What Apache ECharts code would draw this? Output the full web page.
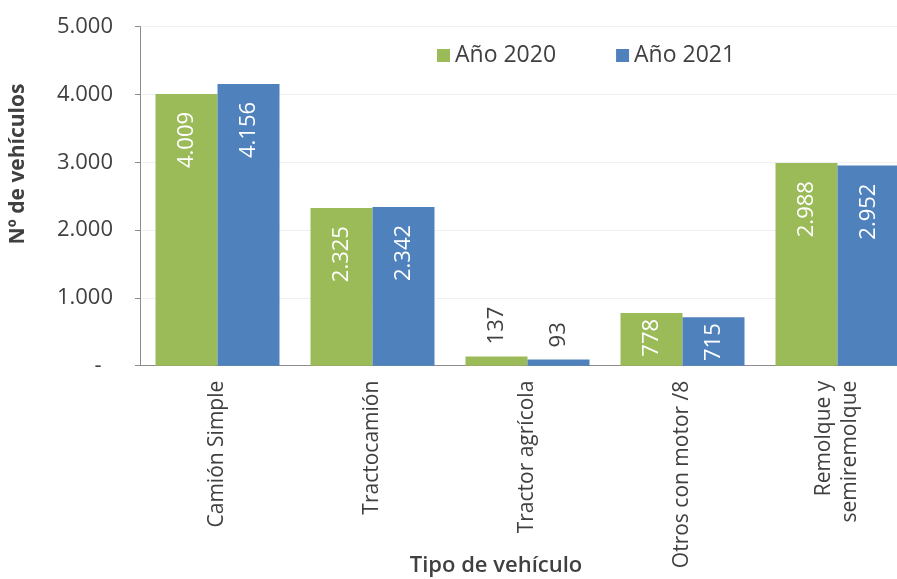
<!DOCTYPE html>
<html>
<head>
<meta charset="utf-8">
<script src="https://cdn.jsdelivr.net/npm/echarts@6/dist/echarts.min.js"></script>
<style>
  html, body { margin: 0; padding: 0; background: #fff; }
  #chart { width: 897px; height: 579px; }
</style>
</head>
<body>
<div id="chart"></div>
<script>
const categories = [
  "Camión Simple",
  "Tractocamión",
  "Tractor agrícola",
  "Otros con motor /8",
  "Remolque y\nsemiremolque",
];
const seriesNames = ["Año 2020", "Año 2021"];
const values2020 = [4009, 2325, 137, 778, 2988];
const values2021 = [4156, 2342, 93, 715, 2952];
const yTicks = [0, 1000, 2000, 3000, 4000, 5000];

const FONT = "'Open Sans', 'Noto Sans', sans-serif";
const GREEN = "#9BBB59";
const BLUE = "#4F81BD";

// formato español: 4.009, y "-" para el cero
const fmt = (v) => (v === 0 ? "-  " : String(v).replace(/\B(?=(\d{3})+(?!\d))/g, "."));

// etiqueta dentro de la barra (blanca) o encima si la barra es muy baja
const toItems = (arr) =>
  arr.map((v) => {
    if (v < 300) {
      return {
        value: v,
        label: {
          position: "top",
          align: "left",
          verticalAlign: "middle",
          distance: 12,
          color: "#404040",
        },
      };
    }
    return {
      value: v,
      label: { distance: v < 1000 ? 6 : 18 },
    };
  });

const chart = echarts.init(document.getElementById("chart"));

const barSeries = (name, data, color) => ({
  name: name,
  type: "bar",
  barGap: "0%",
  barCategoryGap: "20%",
  itemStyle: { color: color },
  label: {
    show: true,
    position: "insideTop",
    rotate: 90,
    align: "right",
    verticalAlign: "middle",
    color: "#fff",
    fontFamily: FONT,
    fontSize: 22,
    formatter: (p) => fmt(p.value),
  },
  data: toItems(data),
});

const option = {
  backgroundColor: "#fff",
  animation: false,
  legend: {
    data: seriesNames,
    left: 432,
    top: 39,
    icon: "rect",
    itemWidth: 13,
    itemHeight: 13,
    itemGap: 60,
    textStyle: { fontFamily: FONT, fontSize: 23, color: "#404040" },
  },
  grid: {
    left: 140,
    top: 26.7,
    bottom: 213.3,
    width: 775, // el gráfico original está recortado por la derecha
    outerBoundsMode: "none",
  },
  xAxis: {
    type: "category",
    data: categories,
    axisLine: { lineStyle: { color: "#8c8c8c" } },
    axisTick: { length: 6, lineStyle: { color: "#8c8c8c" } },
    axisLabel: {
      rotate: 90,
      interval: 0,
      margin: 15,
      fontFamily: FONT,
      fontSize: 21,
      lineHeight: 26,
      color: "#404040",
    },
  },
  yAxis: {
    type: "value",
    min: yTicks[0],
    max: yTicks[yTicks.length - 1],
    interval: yTicks[1] - yTicks[0],
    axisLine: { show: true, lineStyle: { color: "#8c8c8c" } },
    axisTick: { show: true, length: 5, lineStyle: { color: "#8c8c8c" } },
    axisLabel: {
      margin: 27,
      fontFamily: FONT,
      fontSize: 22,
      color: "#404040",
      formatter: fmt,
    },
    splitLine: { lineStyle: { color: "#f0f0f0" } },
  },
  graphic: [
    {
      type: "text",
      x: 18,
      y: 164,
      rotation: Math.PI / 2,
      style: {
        text: "Nº de vehículos",
        fontFamily: FONT,
        fontSize: 21,
        fontWeight: "bold",
        fill: "#404040",
        align: "center",
        verticalAlign: "middle",
      },
    },
    {
      type: "text",
      x: 496,
      y: 566,
      style: {
        text: "Tipo de vehículo",
        fontFamily: FONT,
        fontSize: 22,
        fontWeight: 600,
        fill: "#404040",
        align: "center",
        verticalAlign: "middle",
      },
    },
  ],
  series: [
    barSeries(seriesNames[0], values2020, GREEN),
    barSeries(seriesNames[1], values2021, BLUE),
  ],
};

chart.setOption(option);
</script>
</body>
</html>
